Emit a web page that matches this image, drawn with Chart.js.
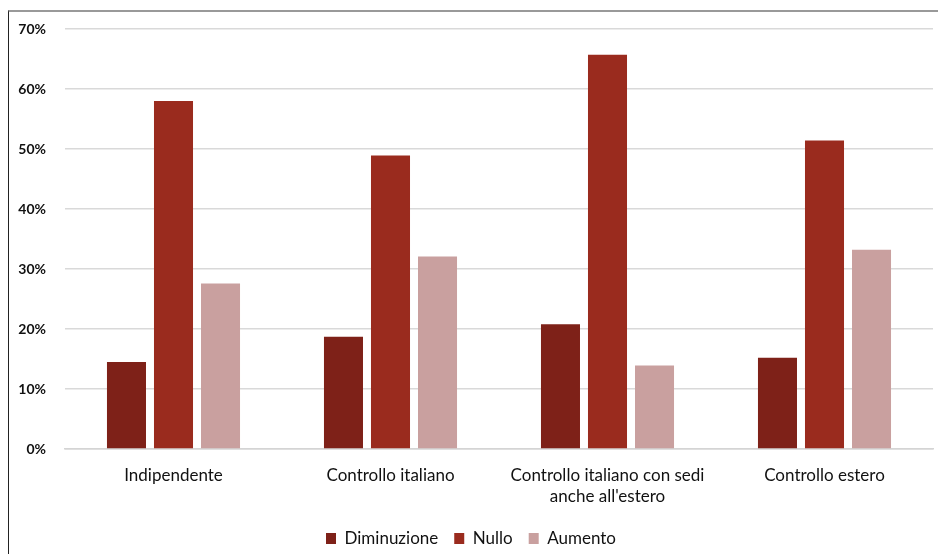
<!DOCTYPE html>
<html>
<head>
<meta charset="utf-8">
<script src="https://cdn.jsdelivr.net/npm/chart.js@4"></script>
<style>
  html, body { margin: 0; padding: 0; background: #fff; }
  .frame {
    position: absolute; left: 8px; top: 10px; width: 930px; height: 544px;
    border-left: 1px solid #222; border-top: 2px solid #999; box-sizing: border-box;
  }
  .frame canvas { position: absolute; left: 0; top: 0; }
</style>
</head>
<body>
<div class="frame"><canvas id="chart" width="929" height="542"></canvas></div>
<script>
const categories = [
  "Indipendente",
  "Controllo italiano",
  ["Controllo italiano con sedi", "anche all'estero"],
  "Controllo estero"
];
const diminuzione = [14.5, 18.7, 20.8, 15.2];
const nullo = [58.0, 48.9, 65.7, 51.4];
const aumento = [27.6, 32.1, 13.9, 33.2];
const yTicks = [0, 10, 20, 30, 40, 50, 60, 70];

const font = "Lato, 'Open Sans', sans-serif";

const context = document.getElementById("chart").getContext("2d");

const config = {
  type: "bar",
  data: {
    labels: categories,
    datasets: [
      { label: "Diminuzione", data: diminuzione, backgroundColor: "#7e2118" },
      { label: "Nullo", data: nullo, backgroundColor: "#9a2b1e" },
      { label: "Aumento", data: aumento, backgroundColor: "#c9a09f" }
    ]
  },
  options: {
    responsive: false,
    animation: false,
    categoryPercentage: 0.65,
    barPercentage: 0.83,
    layout: { padding: { top: 17, right: 5, bottom: -3, left: 0 } },
    plugins: {
      legend: {
        position: "bottom",
        labels: {
          boxWidth: 10, boxHeight: 11, padding: 16,
          color: "#111",
          font: { family: font, size: 17 }
        }
      },
      tooltip: { enabled: false }
    },
    scales: {
      x: {
        grid: { display: false, drawTicks: false },
        border: { color: "#d4d4d4", width: 1.5 },
        ticks: {
          color: "#111", padding: 16,
          maxRotation: 0, autoSkip: false,
          font: { family: font, size: 17, lineHeight: 1.25 }
        },
        afterFit: (scale) => { scale.height = 65; }
      },
      y: {
        min: 0, max: 70,
        afterBuildTicks: (scale) => { scale.ticks = yTicks.map((v) => ({ value: v })); },
        // tick marks kept invisible, only used to push the labels left
        grid: { color: "#d9d9d9", lineWidth: 1.5, drawTicks: true, tickLength: 17, tickColor: "rgba(0,0,0,0)" },
        border: { display: false },
        ticks: {
          color: "#111", padding: 2,
          font: { family: font, size: 14, weight: "bold" },
          callback: (v) => v + "%"
        },
        afterFit: (scale) => { scale.width = 56; }
      }
    }
  }
};

const myChart = new Chart(context, config);
</script>
</body>
</html>
